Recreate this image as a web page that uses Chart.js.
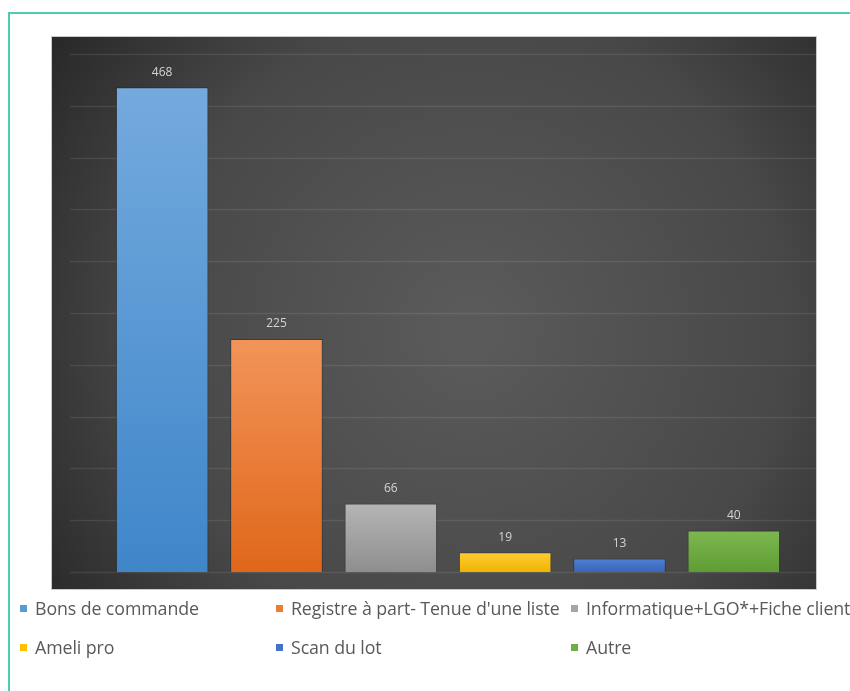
<!DOCTYPE html>
<html>
<head>
<meta charset="utf-8">
<script src="https://cdn.jsdelivr.net/npm/chart.js@4"></script>
<style>
    body { margin: 0; background: #fff; }
    #wrap { position: relative; width: 850px; height: 691px; overflow: hidden; }
    #frame { position: absolute; left: 8px; top: 12px; width: 900px; height: 800px;
             border-left: 2px solid #4fcab3; border-top: 2px solid #4fcab3; }
    canvas { position: absolute; left: 0; top: 0; }
    .leg { position: absolute; font-family: 'Open Sans', sans-serif; font-size: 17.8px;
           color: #595959; white-space: nowrap; line-height: 20px; letter-spacing: -0.1px; }
    .leg span.box { position: absolute; left: -15px; top: 7px; width: 7px; height: 7px; }
</style>
</head>
<body>
<div id="wrap">
    <div id="frame"></div>
    <canvas id="chart" width="850" height="691"></canvas>
    <div id="legend"></div>
</div>
<script>
const categories = ['Bons de commande', "Registre à part- Tenue d'une liste", 'Informatique+LGO*+Fiche client',
    'Ameli pro', 'Scan du lot', 'Autre'];
const values = [468, 225, 66, 19, 13, 40];
const yTicks = [0, 50, 100, 150, 200, 250, 300, 350, 400, 450, 500];

// top / bottom colour of each bar, plus the flat legend colour
const topColors = ['#74aade', '#f29459', '#b5b5b5', '#ffcb33', '#4f7fd3', '#7cb84f'];
const bottomColors = ['#3f86c9', '#e0671a', '#8e8e8e', '#f0b400', '#3a65b8', '#5f9d34'];
const legendColors = ['#5b9bd5', '#ed7d31', '#a5a5a5', '#ffc000', '#4472c4', '#70ad47'];

// legend placement (two rows of three)
const legendPos = [[35, 598], [291, 598], [586, 598], [35, 637], [291, 637], [586, 637]];
document.getElementById('legend').innerHTML = categories.map((c, i) => `
    <div class="leg" style="left:${legendPos[i][0]}px;top:${legendPos[i][1]}px">
        <span class="box" style="background:${legendColors[i]}"></span>${c}
    </div>`).join('');

const panelPlugin = {
    id: 'panel',
    beforeDraw(chart) {
        const ctx = chart.ctx;
        ctx.save();
        const g = ctx.createRadialGradient(470, 330, 20, 470, 330, 560);
        g.addColorStop(0, '#5a5a5a');
        g.addColorStop(0.55, '#484848');
        g.addColorStop(1, '#202020');
        ctx.fillStyle = g;
        ctx.fillRect(52, 37, 764, 552);
        ctx.strokeStyle = '#c9c9c9';
        ctx.lineWidth = 1;
        ctx.strokeRect(51.5, 36.5, 765, 553);
        // gridlines across the panel, from the y scale
        const y = chart.scales.y;
        ctx.strokeStyle = 'rgba(255,255,255,0.09)';
        ctx.lineWidth = 1.5;
        yTicks.forEach(t => {
            const py = Math.round(y.getPixelForValue(t)) + 0.5;
            ctx.beginPath();
            ctx.moveTo(70, py);
            ctx.lineTo(816, py);
            ctx.stroke();
        });
        ctx.restore();
    },
    afterDatasetsDraw(chart) {
        const ctx = chart.ctx;
        const meta = chart.getDatasetMeta(0);
        ctx.save();
        ctx.font = '12px "Open Sans", sans-serif';
        ctx.fillStyle = '#d4d4d4';
        ctx.textAlign = 'center';
        ctx.textBaseline = 'middle';
        meta.data.forEach((bar, i) => {
            ctx.fillText(values[i], bar.x, bar.y - 15);
        });
        ctx.restore();
    }
};

function barGradient(context) {
    const chart = context.chart;
    const i = context.dataIndex;
    if (!chart.chartArea) return legendColors[i];
    const y = chart.scales.y;
    const top = y.getPixelForValue(values[i]);
    const bottom = y.getPixelForValue(0);
    const g = chart.ctx.createLinearGradient(0, top, 0, bottom);
    g.addColorStop(0, topColors[i]);
    g.addColorStop(1, bottomColors[i]);
    return g;
}

new Chart(document.getElementById('chart'), {
    type: 'bar',
    data: {
        labels: categories,
        datasets: [{
            data: values,
            backgroundColor: barGradient,
            borderColor: 'rgba(0,0,0,0.25)',
            borderWidth: 1,
            categoryPercentage: 1,
            barPercentage: 0.81
        }]
    },
    options: {
        responsive: false,
        animation: false,
        layout: { padding: { left: 105, right: 59, top: 54, bottom: 119 } },
        scales: {
            x: { display: false },
            y: { display: false, min: 0, max: 500 }
        },
        plugins: {
            legend: { display: false },
            tooltip: { enabled: false }
        }
    },
    plugins: [panelPlugin]
});
</script>
</body>
</html>
